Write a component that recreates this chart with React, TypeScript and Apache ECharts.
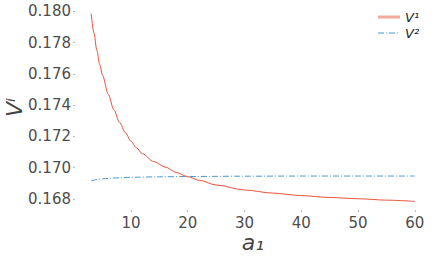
import React, { useEffect, useRef } from "react";
import * as echarts from "echarts";

const aV1 = [3, 3.5, 4, 4.5, 5, 6, 7, 8, 9, 10, 11, 12, 14, 16, 18, 20, 22, 25, 30, 35, 40, 45, 50, 55, 60];
const v1 = [0.17985, 0.1786, 0.1775, 0.1766, 0.1759, 0.1747, 0.1737, 0.1729, 0.17225, 0.1717, 0.17127, 0.1709, 0.1704, 0.17005, 0.1697, 0.16943, 0.1692, 0.1689, 0.16858, 0.16838, 0.16822, 0.1681, 0.16802, 0.16793, 0.16785];
const aV2 = [3, 4, 5, 6, 8, 10, 15, 20, 30, 40, 50, 60];
const v2 = [0.16917, 0.16924, 0.16929, 0.16932, 0.16936, 0.16939, 0.16942, 0.16944, 0.16946, 0.16947, 0.16947, 0.16947];
const xTicks = [10, 20, 30, 40, 50, 60];
const yTicks = [0.168, 0.17, 0.172, 0.174, 0.176, 0.178, 0.18];
const seriesNames = ["V¹", "V²"];

export default function App() {
  const ref = useRef<HTMLDivElement>(null);
  useEffect(() => {
    const chart = echarts.init(ref.current!, null, { renderer: "svg" });
    const font = "DejaVu Sans";
    const red = "#e8533d";
    const blue = "#4f98cf";
    chart.setOption({
      animation: false,
      backgroundColor: "#ffffff",
      grid: { left: 75, right: 4, top: 5, bottom: 46, outerBoundsMode: "none", containLabel: false },
      graphic: [
        { type: "line", shape: { x1: 378, y1: 17, x2: 400, y2: 17 }, style: { stroke: red, lineWidth: 3, opacity: 0.5 } },
        { type: "text", x: 405, y: 17, style: { text: seriesNames[0], font: `italic 13px '${font}'`, fill: "#222", verticalAlign: "middle" } },
        { type: "line", shape: { x1: 378, y1: 33, x2: 400, y2: 33 }, style: { stroke: blue, lineWidth: 1, lineDash: [6, 2, 1, 2] } },
        { type: "text", x: 405, y: 33, style: { text: seriesNames[1], font: `italic 13px '${font}'`, fill: "#222", verticalAlign: "middle" } },
      ],
      xAxis: {
        type: "value",
        min: 0.15,
        max: 62.85,
        name: "a₁",
        nameLocation: "middle",
        nameGap: 21,
        nameMoveOverlap: false,
        nameTextStyle: { fontFamily: font, fontSize: 22, fontStyle: "italic", color: "#444" },
        axisLine: { show: false },
        splitLine: { show: false },
        axisTick: { show: true, length: 2, lineStyle: { color: "#bbb" }, customValues: xTicks },
        axisLabel: { fontFamily: font, fontSize: 15, color: "#4d4d4d", margin: 5, customValues: xTicks },
      },
      yAxis: {
        type: "value",
        min: 0.1673,
        max: 0.1804,
        name: "Vⁱ",
        nameLocation: "middle",
        nameGap: 50,
        nameMoveOverlap: false,
        nameRotate: 90,
        nameTextStyle: { fontFamily: font, fontSize: 22, fontStyle: "italic", color: "#444" },
        axisLine: { show: false },
        splitLine: { show: false },
        axisTick: { show: true, length: 2, lineStyle: { color: "#bbb" }, customValues: yTicks },
        axisLabel: {
          fontFamily: font,
          fontSize: 15,
          color: "#4d4d4d",
          margin: 4,
          customValues: yTicks,
          formatter: (v: number) => v.toFixed(3),
        },
      },
      series: [
        {
          name: seriesNames[0],
          type: "line",
          smooth: 0.3,
          smoothMonotone: "x",
          symbol: "none",
          data: aV1.map((a, i) => [a, v1[i]]),
          lineStyle: { color: red, width: 1 },
          itemStyle: { color: red },
        },
        {
          name: seriesNames[1],
          type: "line",
          smooth: 0.3,
          smoothMonotone: "x",
          symbol: "none",
          data: aV2.map((a, i) => [a, v2[i]]),
          lineStyle: { color: blue, width: 1, type: [6, 2, 1, 2] },
          itemStyle: { color: blue },
        },
      ],
    });
    return () => chart.dispose();
  }, []);
  return <div ref={ref} style={{ position: "fixed", left: 0, top: 0, width: 435, height: 256 }} />;
}
